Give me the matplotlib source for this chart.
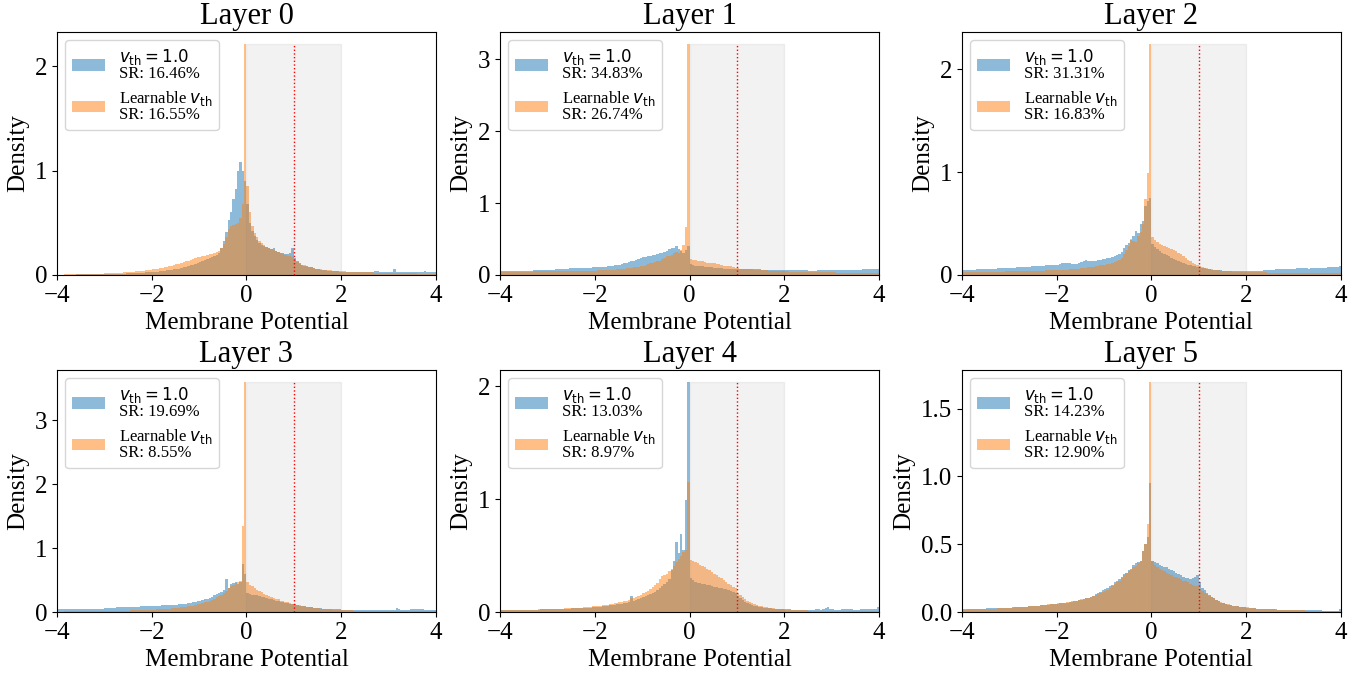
import numpy as np
import matplotlib.pyplot as plt

# histogram densities, 160 bins of width 0.05 on [-4, 4]
# each list: 8 rows of 20 bins, row k covers [-4+k, -3+k]

base_l0 = [
    0.002, 0.002, 0.003, 0.003, 0.003, 0.004, 0.004, 0.004, 0.005, 0.005, 0.005, 0.005, 0.006, 0.006, 0.006, 0.007, 0.007, 0.007, 0.008, 0.008,
    0.009, 0.009, 0.01, 0.01, 0.011, 0.012, 0.012, 0.013, 0.014, 0.015, 0.016, 0.017, 0.018, 0.019, 0.02, 0.021, 0.022, 0.024, 0.025, 0.027,
    0.029, 0.031, 0.033, 0.035, 0.038, 0.041, 0.044, 0.047, 0.05, 0.054, 0.058, 0.062, 0.067, 0.072, 0.078, 0.085, 0.092, 0.1, 0.108, 0.118,
    0.128, 0.135, 0.143, 0.152, 0.162, 0.172, 0.183, 0.195, 0.21, 0.26, 0.33, 0.41, 0.53, 0.6, 0.73, 0.82, 1.0, 1.08, 1.0, 0.9,
    0.68, 0.5, 0.42, 0.37, 0.34, 0.31, 0.29, 0.28, 0.27, 0.26, 0.245, 0.26, 0.23, 0.22, 0.215, 0.21, 0.2, 0.2, 0.21, 0.26,
    0.16, 0.13, 0.115, 0.1, 0.09, 0.085, 0.078, 0.072, 0.066, 0.06, 0.056, 0.052, 0.048, 0.045, 0.042, 0.04, 0.038, 0.036, 0.034, 0.032,
    0.03, 0.03, 0.029, 0.028, 0.028, 0.027, 0.027, 0.026, 0.026, 0.025, 0.025, 0.025, 0.026, 0.03, 0.035, 0.04, 0.03, 0.028, 0.027, 0.027,
    0.027, 0.028, 0.057, 0.03, 0.027, 0.026, 0.026, 0.026, 0.026, 0.026, 0.026, 0.027, 0.026, 0.026, 0.025, 0.04, 0.03, 0.026, 0.03, 0.025,
]
learn_l0 = [
    0.0, 0.0, 0.0, 0.005, 0.006, 0.007, 0.008, 0.008, 0.009, 0.009, 0.01, 0.01, 0.01, 0.011, 0.011, 0.012, 0.012, 0.013, 0.013, 0.014,
    0.015, 0.016, 0.017, 0.018, 0.019, 0.02, 0.021, 0.022, 0.024, 0.026, 0.028, 0.03, 0.032, 0.034, 0.036, 0.038, 0.041, 0.044, 0.047, 0.05,
    0.054, 0.058, 0.062, 0.066, 0.07, 0.075, 0.08, 0.085, 0.09, 0.096, 0.102, 0.108, 0.115, 0.122, 0.13, 0.138, 0.146, 0.155, 0.162, 0.17,
    0.175, 0.18, 0.185, 0.19, 0.2, 0.205, 0.21, 0.22, 0.23, 0.26, 0.3, 0.36, 0.44, 0.47, 0.48, 0.49, 0.5, 0.55, 0.68, 2.22,
    0.85, 0.6, 0.47, 0.4, 0.36, 0.33, 0.31, 0.29, 0.27, 0.26, 0.25, 0.24, 0.23, 0.22, 0.21, 0.2, 0.19, 0.185, 0.18, 0.17,
    0.145, 0.125, 0.11, 0.1, 0.092, 0.085, 0.078, 0.072, 0.067, 0.062, 0.058, 0.055, 0.052, 0.049, 0.047, 0.045, 0.043, 0.041, 0.039, 0.037,
    0.035, 0.034, 0.033, 0.032, 0.031, 0.03, 0.029, 0.028, 0.028, 0.027, 0.026, 0.025, 0.025, 0.024, 0.023, 0.023, 0.022, 0.022, 0.021, 0.02,
    0.02, 0.019, 0.019, 0.018, 0.018, 0.017, 0.017, 0.016, 0.016, 0.015, 0.015, 0.015, 0.014, 0.014, 0.014, 0.013, 0.013, 0.013, 0.012, 0.012,
]

base_l1 = [
    0.05, 0.05, 0.05, 0.05, 0.05, 0.052, 0.052, 0.054, 0.055, 0.056, 0.058, 0.06, 0.06, 0.062, 0.064, 0.065, 0.066, 0.068, 0.07, 0.07,
    0.072, 0.074, 0.076, 0.078, 0.08, 0.082, 0.085, 0.088, 0.09, 0.092, 0.094, 0.096, 0.098, 0.1, 0.1, 0.1, 0.1, 0.102, 0.104, 0.105,
    0.105, 0.108, 0.11, 0.112, 0.115, 0.12, 0.125, 0.13, 0.135, 0.14, 0.145, 0.15, 0.16, 0.17, 0.18, 0.19, 0.2, 0.21, 0.22, 0.235,
    0.245, 0.25, 0.26, 0.27, 0.275, 0.28, 0.29, 0.3, 0.31, 0.32, 0.34, 0.36, 0.37, 0.38, 0.4, 0.36, 0.33, 0.3, 0.35, 0.4,
    0.15, 0.14, 0.13, 0.13, 0.12, 0.12, 0.115, 0.11, 0.11, 0.105, 0.1, 0.1, 0.095, 0.095, 0.09, 0.09, 0.09, 0.088, 0.086, 0.085,
    0.085, 0.084, 0.083, 0.082, 0.08, 0.08, 0.08, 0.078, 0.078, 0.077, 0.076, 0.075, 0.075, 0.074, 0.073, 0.072, 0.071, 0.07, 0.07, 0.069,
    0.068, 0.067, 0.066, 0.065, 0.065, 0.064, 0.064, 0.063, 0.063, 0.063, 0.062, 0.062, 0.062, 0.062, 0.063, 0.063, 0.064, 0.064, 0.065, 0.066,
    0.067, 0.068, 0.069, 0.07, 0.07, 0.071, 0.072, 0.072, 0.073, 0.074, 0.075, 0.076, 0.076, 0.077, 0.078, 0.08, 0.08, 0.082, 0.084, 0.085,
]
learn_l1 = [
    0.045, 0.045, 0.045, 0.045, 0.045, 0.046, 0.046, 0.046, 0.047, 0.047, 0.047, 0.048, 0.048, 0.048, 0.049, 0.049, 0.05, 0.05, 0.05, 0.05,
    0.05, 0.05, 0.051, 0.051, 0.052, 0.052, 0.053, 0.053, 0.054, 0.054, 0.055, 0.055, 0.056, 0.057, 0.058, 0.058, 0.059, 0.06, 0.06, 0.061,
    0.062, 0.063, 0.064, 0.066, 0.068, 0.07, 0.072, 0.074, 0.076, 0.078, 0.08, 0.084, 0.088, 0.092, 0.096, 0.1, 0.105, 0.11, 0.115, 0.12,
    0.13, 0.14, 0.15, 0.16, 0.17, 0.18, 0.19, 0.2, 0.22, 0.24, 0.26, 0.27, 0.28, 0.3, 0.32, 0.31, 0.35, 0.42, 0.67, 3.22,
    0.22, 0.21, 0.21, 0.2, 0.2, 0.19, 0.18, 0.17, 0.17, 0.16, 0.16, 0.15, 0.15, 0.14, 0.13, 0.13, 0.12, 0.12, 0.11, 0.1,
    0.095, 0.09, 0.088, 0.085, 0.082, 0.08, 0.078, 0.075, 0.073, 0.07, 0.068, 0.066, 0.064, 0.062, 0.06, 0.058, 0.056, 0.055, 0.053, 0.052,
    0.05, 0.049, 0.048, 0.047, 0.046, 0.045, 0.044, 0.043, 0.042, 0.041, 0.04, 0.04, 0.039, 0.038, 0.038, 0.037, 0.037, 0.036, 0.036, 0.035,
    0.035, 0.035, 0.034, 0.034, 0.034, 0.033, 0.033, 0.033, 0.032, 0.032, 0.032, 0.032, 0.031, 0.031, 0.031, 0.031, 0.03, 0.03, 0.03, 0.03,
]

base_l2 = [
    0.05, 0.05, 0.05, 0.051, 0.052, 0.053, 0.054, 0.055, 0.056, 0.057, 0.058, 0.059, 0.06, 0.062, 0.063, 0.064, 0.066, 0.067, 0.068, 0.07,
    0.07, 0.071, 0.072, 0.074, 0.075, 0.077, 0.078, 0.08, 0.082, 0.083, 0.085, 0.087, 0.088, 0.09, 0.092, 0.093, 0.095, 0.097, 0.098, 0.1,
    0.1, 0.11, 0.115, 0.12, 0.12, 0.115, 0.11, 0.108, 0.11, 0.12, 0.13, 0.14, 0.145, 0.14, 0.135, 0.135, 0.14, 0.145, 0.15, 0.155,
    0.16, 0.165, 0.17, 0.175, 0.18, 0.19, 0.2, 0.22, 0.26, 0.29, 0.31, 0.34, 0.38, 0.43, 0.41, 0.5, 0.52, 0.67, 0.72, 0.75,
    0.3, 0.27, 0.25, 0.23, 0.21, 0.2, 0.19, 0.18, 0.17, 0.16, 0.15, 0.14, 0.13, 0.12, 0.11, 0.1, 0.095, 0.09, 0.085, 0.08,
    0.075, 0.07, 0.065, 0.06, 0.056, 0.053, 0.05, 0.048, 0.046, 0.044, 0.043, 0.042, 0.041, 0.04, 0.04, 0.04, 0.04, 0.04, 0.04, 0.04,
    0.04, 0.04, 0.041, 0.041, 0.042, 0.042, 0.043, 0.044, 0.045, 0.046, 0.047, 0.05, 0.055, 0.06, 0.06, 0.058, 0.056, 0.058, 0.06, 0.062,
    0.063, 0.064, 0.065, 0.066, 0.066, 0.064, 0.062, 0.065, 0.068, 0.07, 0.072, 0.07, 0.068, 0.07, 0.073, 0.075, 0.078, 0.08, 0.082, 0.085,
]
learn_l2 = [
    0.025, 0.025, 0.026, 0.026, 0.027, 0.027, 0.028, 0.028, 0.029, 0.029, 0.03, 0.03, 0.031, 0.031, 0.032, 0.032, 0.033, 0.033, 0.034, 0.034,
    0.035, 0.035, 0.036, 0.036, 0.037, 0.037, 0.038, 0.038, 0.039, 0.039, 0.04, 0.04, 0.041, 0.042, 0.043, 0.044, 0.045, 0.046, 0.047, 0.048,
    0.049, 0.05, 0.051, 0.052, 0.053, 0.055, 0.057, 0.059, 0.061, 0.063, 0.066, 0.069, 0.072, 0.075, 0.078, 0.082, 0.086, 0.09, 0.094, 0.098,
    0.1, 0.105, 0.11, 0.12, 0.13, 0.14, 0.15, 0.17, 0.2, 0.24, 0.28, 0.35, 0.33, 0.32, 0.38, 0.42, 0.5, 0.74, 0.99, 2.25,
    0.37, 0.34, 0.32, 0.3, 0.29, 0.28, 0.27, 0.26, 0.25, 0.24, 0.23, 0.21, 0.2, 0.18, 0.17, 0.15, 0.14, 0.12, 0.11, 0.1,
    0.09, 0.08, 0.072, 0.065, 0.06, 0.055, 0.05, 0.047, 0.044, 0.041, 0.039, 0.037, 0.035, 0.034, 0.033, 0.032, 0.031, 0.03, 0.03, 0.029,
    0.028, 0.028, 0.027, 0.027, 0.026, 0.026, 0.025, 0.025, 0.025, 0.024, 0.024, 0.024, 0.023, 0.023, 0.023, 0.022, 0.022, 0.022, 0.021, 0.021,
    0.021, 0.021, 0.02, 0.02, 0.02, 0.02, 0.02, 0.019, 0.019, 0.019, 0.019, 0.019, 0.018, 0.018, 0.018, 0.018, 0.018, 0.018, 0.017, 0.017,
]

base_l3 = [
    0.04, 0.04, 0.04, 0.04, 0.04, 0.04, 0.04, 0.04, 0.04, 0.04, 0.04, 0.04, 0.04, 0.04, 0.04, 0.04, 0.04, 0.04, 0.04, 0.04,
    0.065, 0.068, 0.07, 0.07, 0.07, 0.072, 0.072, 0.074, 0.075, 0.076, 0.078, 0.08, 0.082, 0.084, 0.086, 0.088, 0.09, 0.092, 0.095, 0.098,
    0.1, 0.1, 0.1, 0.102, 0.104, 0.106, 0.108, 0.11, 0.11, 0.112, 0.115, 0.118, 0.12, 0.125, 0.13, 0.135, 0.14, 0.15, 0.16, 0.17,
    0.18, 0.19, 0.2, 0.21, 0.22, 0.24, 0.26, 0.28, 0.3, 0.32, 0.34, 0.52, 0.37, 0.44, 0.45, 0.47, 0.44, 0.47, 0.75, 0.6,
    0.3, 0.28, 0.27, 0.265, 0.26, 0.25, 0.24, 0.23, 0.22, 0.21, 0.2, 0.19, 0.18, 0.17, 0.16, 0.15, 0.14, 0.135, 0.13, 0.125,
    0.12, 0.11, 0.1, 0.095, 0.09, 0.085, 0.08, 0.075, 0.07, 0.065, 0.06, 0.057, 0.054, 0.05, 0.048, 0.046, 0.044, 0.042, 0.04, 0.04,
    0.035, 0.033, 0.032, 0.03, 0.03, 0.03, 0.029, 0.029, 0.028, 0.028, 0.028, 0.028, 0.029, 0.03, 0.03, 0.03, 0.03, 0.03, 0.031, 0.031,
    0.032, 0.034, 0.036, 0.065, 0.04, 0.035, 0.034, 0.035, 0.038, 0.04, 0.052, 0.04, 0.048, 0.05, 0.04, 0.035, 0.032, 0.03, 0.028, 0.028,
]
learn_l3 = [
    0.008, 0.008, 0.008, 0.009, 0.009, 0.009, 0.01, 0.01, 0.01, 0.01, 0.011, 0.011, 0.011, 0.012, 0.012, 0.012, 0.013, 0.013, 0.013, 0.014,
    0.014, 0.015, 0.015, 0.016, 0.017, 0.018, 0.019, 0.02, 0.021, 0.022, 0.023, 0.024, 0.025, 0.026, 0.027, 0.028, 0.03, 0.031, 0.033, 0.035,
    0.037, 0.039, 0.041, 0.043, 0.045, 0.048, 0.051, 0.054, 0.057, 0.06, 0.064, 0.068, 0.072, 0.077, 0.082, 0.088, 0.095, 0.102, 0.11, 0.12,
    0.13, 0.14, 0.15, 0.16, 0.175, 0.19, 0.21, 0.23, 0.25, 0.27, 0.3, 0.33, 0.37, 0.4, 0.43, 0.45, 0.47, 0.48, 1.35, 3.61,
    0.47, 0.43, 0.4, 0.37, 0.35, 0.33, 0.31, 0.29, 0.27, 0.25, 0.24, 0.22, 0.21, 0.2, 0.18, 0.17, 0.16, 0.15, 0.14, 0.13,
    0.125, 0.115, 0.105, 0.1, 0.092, 0.085, 0.078, 0.072, 0.066, 0.06, 0.056, 0.052, 0.048, 0.045, 0.042, 0.04, 0.038, 0.036, 0.034, 0.032,
    0.03, 0.028, 0.026, 0.025, 0.024, 0.023, 0.022, 0.021, 0.02, 0.019, 0.018, 0.018, 0.017, 0.017, 0.016, 0.016, 0.015, 0.015, 0.015, 0.014,
    0.014, 0.014, 0.013, 0.013, 0.013, 0.012, 0.012, 0.012, 0.012, 0.011, 0.011, 0.011, 0.011, 0.01, 0.01, 0.01, 0.01, 0.01, 0.01, 0.01,
]

base_l4 = [
    0.015, 0.015, 0.016, 0.016, 0.017, 0.017, 0.018, 0.018, 0.019, 0.019, 0.02, 0.02, 0.02, 0.021, 0.021, 0.022, 0.022, 0.023, 0.023, 0.024,
    0.024, 0.025, 0.025, 0.026, 0.027, 0.027, 0.028, 0.029, 0.03, 0.031, 0.032, 0.033, 0.034, 0.035, 0.036, 0.037, 0.038, 0.039, 0.04, 0.042,
    0.044, 0.046, 0.048, 0.05, 0.052, 0.055, 0.058, 0.061, 0.064, 0.067, 0.07, 0.074, 0.078, 0.082, 0.087, 0.145, 0.098, 0.105, 0.112, 0.12,
    0.13, 0.14, 0.15, 0.16, 0.17, 0.18, 0.195, 0.21, 0.23, 0.25, 0.27, 0.29, 0.37, 0.45, 0.62, 0.52, 0.69, 0.55, 0.99, 2.04,
    0.3, 0.28, 0.27, 0.26, 0.255, 0.25, 0.245, 0.24, 0.235, 0.23, 0.225, 0.22, 0.215, 0.21, 0.205, 0.2, 0.195, 0.19, 0.18, 0.17,
    0.14, 0.12, 0.105, 0.09, 0.08, 0.07, 0.062, 0.055, 0.05, 0.045, 0.042, 0.04, 0.037, 0.035, 0.033, 0.031, 0.03, 0.028, 0.027, 0.026,
    0.025, 0.024, 0.023, 0.022, 0.021, 0.02, 0.02, 0.02, 0.019, 0.019, 0.019, 0.02, 0.022, 0.03, 0.025, 0.022, 0.025, 0.038, 0.042, 0.03,
    0.025, 0.022, 0.02, 0.022, 0.025, 0.028, 0.03, 0.028, 0.025, 0.022, 0.02, 0.022, 0.025, 0.028, 0.03, 0.028, 0.026, 0.028, 0.03, 0.045,
]
learn_l4 = [
    0.015, 0.015, 0.016, 0.016, 0.017, 0.017, 0.018, 0.018, 0.019, 0.019, 0.02, 0.02, 0.021, 0.021, 0.022, 0.022, 0.023, 0.023, 0.024, 0.024,
    0.025, 0.026, 0.027, 0.028, 0.029, 0.03, 0.031, 0.032, 0.033, 0.034, 0.035, 0.036, 0.037, 0.038, 0.04, 0.041, 0.043, 0.045, 0.047, 0.049,
    0.051, 0.054, 0.057, 0.06, 0.063, 0.066, 0.07, 0.074, 0.078, 0.082, 0.086, 0.09, 0.095, 0.1, 0.11, 0.12, 0.125, 0.135, 0.145, 0.155,
    0.165, 0.175, 0.185, 0.2, 0.22, 0.24, 0.26, 0.29, 0.32, 0.33, 0.34, 0.36, 0.38, 0.41, 0.44, 0.47, 0.5, 0.53, 0.55, 1.15,
    0.46, 0.45, 0.44, 0.43, 0.42, 0.41, 0.4, 0.38, 0.37, 0.35, 0.34, 0.33, 0.31, 0.3, 0.28, 0.27, 0.25, 0.24, 0.22, 0.21,
    0.17, 0.15, 0.13, 0.115, 0.1, 0.09, 0.08, 0.07, 0.062, 0.055, 0.05, 0.045, 0.041, 0.038, 0.035, 0.032, 0.03, 0.028, 0.026, 0.024,
    0.022, 0.02, 0.019, 0.018, 0.017, 0.016, 0.015, 0.015, 0.014, 0.014, 0.013, 0.013, 0.013, 0.012, 0.012, 0.012, 0.011, 0.011, 0.011, 0.011,
    0.01, 0.01, 0.01, 0.01, 0.01, 0.01, 0.01, 0.01, 0.01, 0.01, 0.009, 0.009, 0.009, 0.009, 0.009, 0.009, 0.009, 0.009, 0.009, 0.009,
]

base_l5 = [
    0.025, 0.025, 0.025, 0.025, 0.025, 0.025, 0.025, 0.025, 0.025, 0.025, 0.028, 0.028, 0.03, 0.03, 0.03, 0.03, 0.031, 0.031, 0.032, 0.032,
    0.033, 0.034, 0.035, 0.036, 0.037, 0.038, 0.039, 0.04, 0.041, 0.042, 0.043, 0.045, 0.047, 0.049, 0.051, 0.053, 0.055, 0.057, 0.059, 0.06,
    0.062, 0.064, 0.066, 0.068, 0.07, 0.073, 0.076, 0.079, 0.082, 0.086, 0.09, 0.095, 0.1, 0.105, 0.11, 0.12, 0.13, 0.14, 0.15, 0.16,
    0.17, 0.18, 0.19, 0.2, 0.22, 0.23, 0.24, 0.26, 0.28, 0.29, 0.31, 0.32, 0.35, 0.36, 0.37, 0.38, 0.45, 0.5, 0.55, 0.95,
    0.38, 0.37, 0.36, 0.35, 0.34, 0.33, 0.33, 0.32, 0.31, 0.3, 0.29, 0.28, 0.27, 0.26, 0.25, 0.25, 0.24, 0.25, 0.26, 0.275,
    0.22, 0.18, 0.16, 0.14, 0.125, 0.11, 0.1, 0.09, 0.08, 0.07, 0.065, 0.06, 0.055, 0.05, 0.047, 0.044, 0.041, 0.038, 0.036, 0.034,
    0.032, 0.03, 0.028, 0.027, 0.026, 0.025, 0.024, 0.023, 0.022, 0.021, 0.02, 0.019, 0.019, 0.018, 0.018, 0.017, 0.017, 0.016, 0.016, 0.015,
    0.015, 0.015, 0.014, 0.014, 0.014, 0.013, 0.013, 0.013, 0.012, 0.012, 0.012, 0.012, 0.011, 0.011, 0.011, 0.011, 0.01, 0.01, 0.01, 0.02,
]
learn_l5 = [
    0.018, 0.018, 0.019, 0.019, 0.02, 0.02, 0.02, 0.021, 0.021, 0.022, 0.022, 0.023, 0.024, 0.025, 0.026, 0.027, 0.028, 0.029, 0.03, 0.031,
    0.032, 0.033, 0.034, 0.035, 0.036, 0.037, 0.038, 0.04, 0.041, 0.043, 0.045, 0.046, 0.048, 0.05, 0.052, 0.054, 0.056, 0.058, 0.06, 0.062,
    0.064, 0.066, 0.068, 0.07, 0.073, 0.076, 0.079, 0.082, 0.085, 0.089, 0.093, 0.097, 0.102, 0.107, 0.112, 0.118, 0.124, 0.13, 0.138, 0.146,
    0.155, 0.165, 0.18, 0.19, 0.21, 0.22, 0.23, 0.25, 0.27, 0.285, 0.3, 0.31, 0.33, 0.34, 0.36, 0.38, 0.45, 0.5, 0.65, 1.7,
    0.38, 0.35, 0.33, 0.32, 0.31, 0.3, 0.29, 0.28, 0.27, 0.26, 0.26, 0.25, 0.24, 0.23, 0.23, 0.22, 0.21, 0.2, 0.19, 0.19,
    0.17, 0.155, 0.14, 0.13, 0.12, 0.11, 0.1, 0.09, 0.082, 0.075, 0.068, 0.062, 0.057, 0.052, 0.048, 0.045, 0.042, 0.04, 0.038, 0.036,
    0.034, 0.032, 0.03, 0.028, 0.026, 0.025, 0.024, 0.023, 0.022, 0.021, 0.02, 0.019, 0.018, 0.018, 0.017, 0.016, 0.016, 0.015, 0.015, 0.014,
    0.014, 0.013, 0.013, 0.012, 0.012, 0.011, 0.011, 0.011, 0.01, 0.01, 0.01, 0.009, 0.009, 0.009, 0.008, 0.008, 0.008, 0.007, 0.007, 0.006,
]

base_hists = [base_l0, base_l1, base_l2, base_l3, base_l4, base_l5]
learn_hists = [learn_l0, learn_l1, learn_l2, learn_l3, learn_l4, learn_l5]
sr_base = ['16.46', '34.83', '31.31', '19.69', '13.03', '14.23']
sr_learn = ['16.55', '26.74', '16.83', '8.55', '8.97', '12.90']

edges = np.linspace(-4, 4, 161)
centers = (edges[:-1] + edges[1:]) / 2

plt.rcParams['font.family'] = 'Liberation Serif'

fig, axes = plt.subplots(2, 3, figsize=(13.67, 6.73), dpi=100)

# panel boxes (figure fractions), columns are not evenly spaced in the original
col_left = [0.0417, 0.3658, 0.7037]
row_bottom = [0.5914, 0.0906]
row_height = [0.3611, 0.3596]
panel_w = 0.2772

for i, ax in enumerate(axes.flat):
    r, c = divmod(i, 3)
    ax.set_position([col_left[c], row_bottom[r], panel_w, row_height[r]])

    base = base_hists[i]
    learn = learn_hists[i]
    ax.hist(centers, bins=edges, weights=base, alpha=0.5, color='C0',
            label=r'$v_{\mathrm{th}} = 1.0$' + f'\nSR: {sr_base[i]}%')
    ax.hist(centers, bins=edges, weights=learn, alpha=0.5, color='C1',
            label=r'Learnable $v_{\mathrm{th}}$' + f'\nSR: {sr_learn[i]}%')
    top = max(max(base), max(learn))
    # firing window and threshold
    ax.fill_between([0, 2], 0, top, color='gray', alpha=0.1)
    ax.vlines(1.0, 0, top, colors='red', linestyles=':', linewidth=1)
    ax.set_xlim(-4, 4)
    ax.set_ylim(0, top * 1.05)
    ax.set_title(f'Layer {i}', fontsize=22)
    ax.set_xlabel('Membrane Potential', fontsize=18)
    ax.set_ylabel('Density', fontsize=18)
    ax.tick_params(labelsize=18)
    leg = ax.legend(loc='upper left', fontsize=12, labelspacing=0.4)
    for t in leg.get_texts():
        t.set_linespacing(0.95)

plt.savefig('out.png', dpi=100)
